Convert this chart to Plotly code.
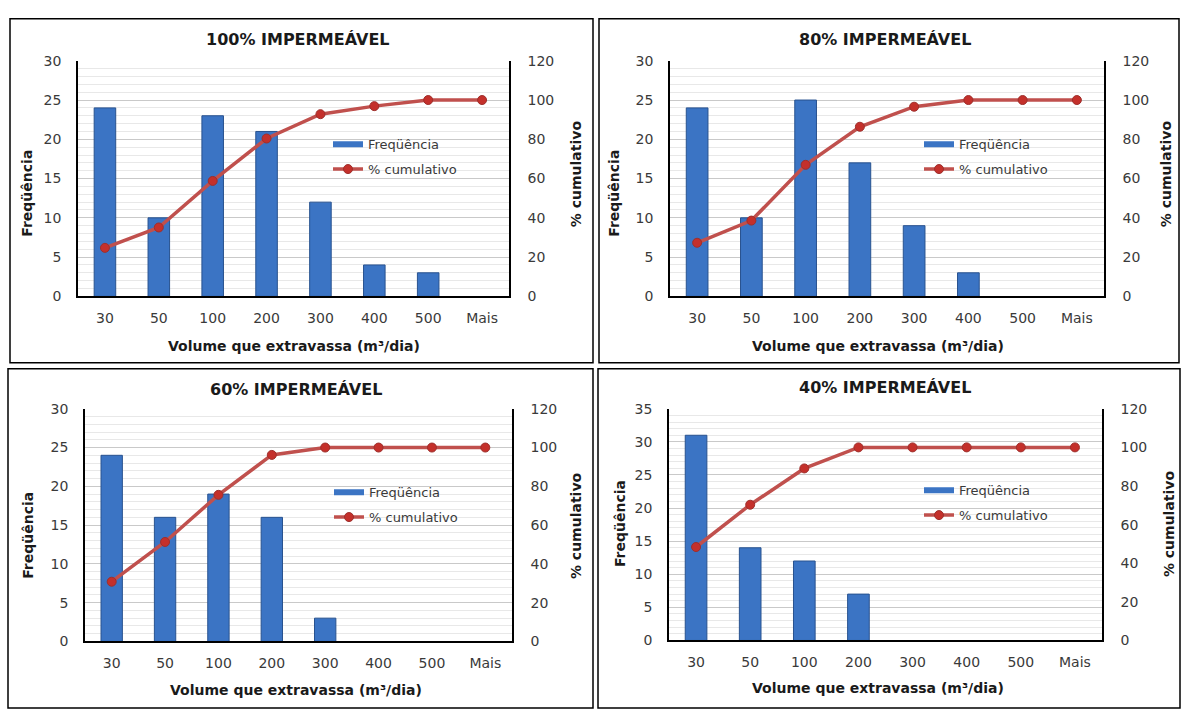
import plotly.graph_objects as go

categories = ["30", "50", "100", "200", "300", "400", "500", "Mais"]

freq_100 = [24, 10, 23, 21, 12, 4, 3, 0]
cum_100 = [24.7, 35.1, 58.8, 80.4, 92.8, 96.9, 100, 100]

freq_80 = [24, 10, 25, 17, 9, 3, 0, 0]
cum_80 = [27.3, 38.6, 67.0, 86.4, 96.6, 100, 100, 100]

freq_60 = [24, 16, 19, 16, 3, 0, 0, 0]
cum_60 = [30.8, 51.3, 75.6, 96.2, 100, 100, 100, 100]

freq_40 = [31, 14, 12, 7, 0, 0, 0, 0]
cum_40 = [48.4, 70.3, 89.1, 100, 100, 100, 100, 100]

titles = ["100% IMPERMEÁVEL", "80% IMPERMEÁVEL", "60% IMPERMEÁVEL", "40% IMPERMEÁVEL"]
freqs = [freq_100, freq_80, freq_60, freq_40]
cums = [cum_100, cum_80, cum_60, cum_40]
left_max = [30, 30, 30, 35]

W, H = 1181, 711
def px(x):
    return x / W
def py(y):
    return 1 - y / H

# plot-area pixel boxes (x0, x1, ytop, ybottom)
boxes = [(78, 509, 54, 295), (670, 1104, 54, 295), (85, 512, 410, 648), (669, 1102, 410, 647)]
borders = [(10, 593, 11, 363), (599, 1179, 11, 363), (8, 593, 369, 716), (598, 1180, 369, 716)]
legend_pos = [(328, 124), (919, 124), (329, 480), (919, 478)]
title_pos = [(298, 32), (885, 32), (296, 390), (885, 388)]
xtitle_pos = [(294, 346), (878, 346), (296, 698), (878, 696)]
ltitle_pos = [(27, 190), (614, 190), (28, 540), (620, 528)]
rtitle_pos = [(576, 170), (1166, 170), (576, 530), (1169, 528)]

FONT = "DejaVu Sans, Liberation Sans, Arial, sans-serif"
BAR = "#3B74C4"
BAR_EDGE = "#28528F"
LINE = "#C0504D"
TXT = "#3a3a3a"

fig = go.Figure()
annotations = []
shapes = []

for i in range(4):
    n = i + 1
    sx = "" if n == 1 else str(2 * i + 1)
    sy2 = str(2 * i + 2)
    xa = "x" + sx
    ya = "y" + sx
    ya2 = "y" + sy2
    leg = "legend" if n == 1 else "legend" + str(n)
    fig.add_trace(go.Bar(
        x=categories, y=freqs[i], name="Freqüência", showlegend=False,
        marker=dict(color=BAR, line=dict(color=BAR_EDGE,
                                         width=[1 if v > 0 else 0 for v in freqs[i]])),
        width=0.4, xaxis=xa, yaxis=ya,
    ))
    # legend entry for the bars (wide flat swatch, as in the original)
    fig.add_trace(go.Scatter(
        x=[None], y=[None], name="Freqüência", mode="lines",
        line=dict(color=BAR, width=6), xaxis=xa, yaxis=ya, legend=leg,
        legendgroup="f%d" % n,
    ))
    fig.add_trace(go.Scatter(
        x=categories, y=cums[i], name="% cumulativo", mode="lines+markers",
        line=dict(color=LINE, width=3.5),
        marker=dict(color="#C4302B", size=9, line=dict(color="#9E2F2C", width=1)),
        xaxis=xa, yaxis=ya2, legend=leg, legendgroup="c%d" % n,
    ))
    x0, x1, yt, yb = boxes[i]
    xkey = "xaxis" if n == 1 else "xaxis" + sx
    ykey = "yaxis" if n == 1 else "yaxis" + sx
    y2key = "yaxis" + sy2
    fig.layout[xkey] = dict(
        domain=[px(x0), px(x1)], anchor=ya, type="category",
        range=[-0.5, 7.5], showline=True, linecolor="black", linewidth=1.5,
        ticks="", tickfont=dict(size=14, color=TXT, family=FONT),
        showgrid=False, fixedrange=True, ticklabelstandoff=8,
    )
    fig.layout[ykey] = dict(
        domain=[py(yb), py(yt)], anchor=xa, range=[0, left_max[i]], dtick=5,
        showline=True, linecolor="black", linewidth=1.5, ticks="",
        tickfont=dict(size=14, color=TXT, family=FONT),
        showgrid=True, gridcolor="#C9C9C9", gridwidth=1,
        minor=dict(dtick=1, showgrid=True, gridcolor="#E8E8E8", gridwidth=1),
        zeroline=False, ticklabelstandoff=12,
    )
    fig.layout[y2key] = dict(
        domain=[py(yb), py(yt)], anchor=xa, overlaying=ya, side="right",
        range=[0, 120], dtick=20, showline=True, linecolor="black", linewidth=1.5,
        ticks="", tickfont=dict(size=14, color=TXT, family=FONT),
        showgrid=False, zeroline=False, ticklabelstandoff=14,
    )
    lx, ly = legend_pos[i]
    fig.layout[leg] = dict(
        x=px(lx), y=py(ly), xanchor="left", yanchor="top",
        bgcolor="rgba(0,0,0,0)", font=dict(size=13, color=TXT, family=FONT),
        tracegroupgap=5, itemwidth=30,
    )
    tx, ty = title_pos[i]
    annotations.append(dict(text="<b>" + titles[i] + "</b>", x=px(tx), y=py(ty),
                            xref="paper", yref="paper", showarrow=False,
                            xanchor="center", yanchor="middle",
                            font=dict(size=16, color="#1a1a1a", family=FONT)))
    tx, ty = xtitle_pos[i]
    annotations.append(dict(text="<b>Volume que extravassa (m³/dia)</b>", x=px(tx), y=py(ty),
                            xref="paper", yref="paper", showarrow=False,
                            xanchor="center", yanchor="middle",
                            font=dict(size=14, color="#1a1a1a", family=FONT)))
    tx, ty = ltitle_pos[i]
    annotations.append(dict(text="<b>Freqüência</b>", x=px(tx), y=py(ty),
                            xref="paper", yref="paper", showarrow=False, textangle=-90,
                            xanchor="center", yanchor="middle",
                            font=dict(size=14, color="#1a1a1a", family=FONT)))
    tx, ty = rtitle_pos[i]
    annotations.append(dict(text="<b>% cumulativo</b>", x=px(tx), y=py(ty),
                            xref="paper", yref="paper", showarrow=False, textangle=-90,
                            xanchor="center", yanchor="middle",
                            font=dict(size=14, color="#1a1a1a", family=FONT)))
    bx0, bx1, by0, by1 = borders[i]
    shapes.append(dict(type="rect", xref="paper", yref="paper",
                       x0=px(bx0), x1=px(bx1), y0=py(by1), y1=py(by0),
                       line=dict(color="black", width=1.5)))

fig.update_layout(
    width=W, height=H, margin=dict(l=0, r=0, t=0, b=0),
    paper_bgcolor="white", plot_bgcolor="white",
    annotations=annotations, shapes=shapes,
    font=dict(family=FONT),
)

fig.write_html("out.html")
